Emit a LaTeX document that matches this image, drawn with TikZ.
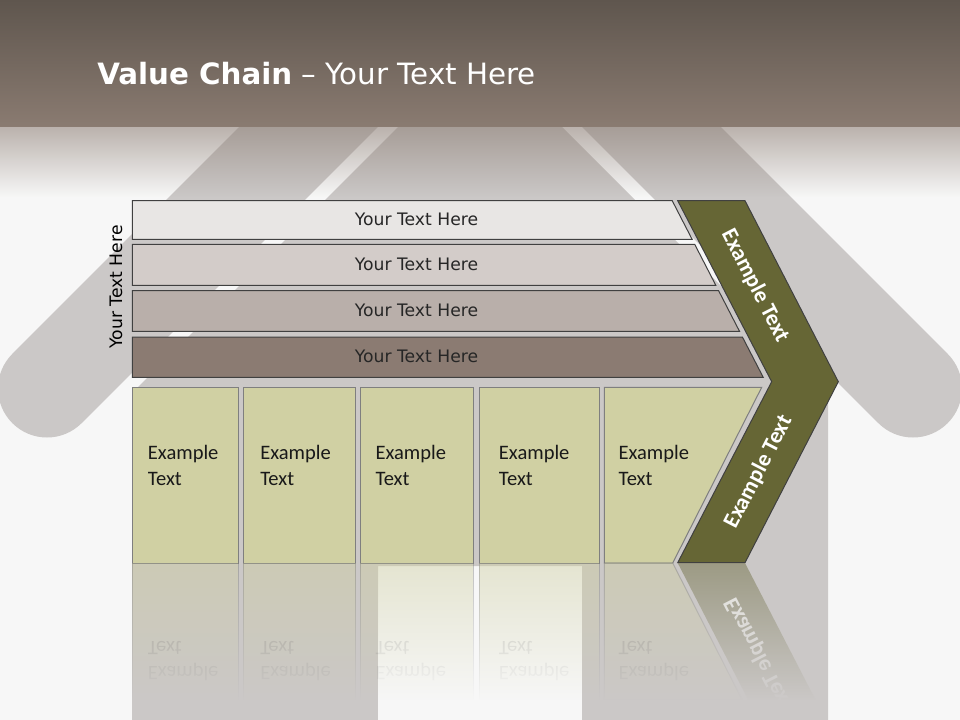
\documentclass[tikz,border=0pt]{standalone}
\usepackage{fontspec}
\setmainfont{Carlito}
\newfontfamily\dejavu{DejaVu Sans}
\usepackage{graphicx}
\usetikzlibrary{fadings}
\definecolor{bgc}{HTML}{F7F7F7}
\definecolor{housec}{HTML}{CBC8C7}
\definecolor{bandtop}{HTML}{5F564E}
\definecolor{bandbot}{HTML}{8A7B71}
\definecolor{barA}{HTML}{E8E6E4}
\definecolor{barB}{HTML}{D3CCC9}
\definecolor{barC}{HTML}{B9AFAA}
\definecolor{barD}{HTML}{8B7B72}
\definecolor{boxc}{HTML}{D0D0A3}
\definecolor{olivec}{HTML}{666635}
\definecolor{edgec}{HTML}{404040}
\definecolor{boxedge}{HTML}{7F7F7F}
\definecolor{txtc}{HTML}{262626}
\tikzfading[name=bandfade, top color=transparent!45, bottom color=transparent!100]
\tikzfading[name=reflcover, top color=transparent!100, bottom color=transparent!0]
\begin{document}
\begin{tikzpicture}[x=0.75pt,y=-0.75pt,
  barbox/.style={draw=edgec, line width=0.75pt},
  gbox/.style={fill=boxc, draw=boxedge, line width=0.75pt},
  bartext/.style={font=\dejavu\fontsize{12.9}{15}\selectfont, text=txtc, anchor=base, inner sep=0},
  boxtext/.style={font=\fontsize{15.4}{18}\selectfont, text=black!90, anchor=base west, inner sep=0},
  refltext/.style={boxtext, text opacity=0.22},
  chevtext/.style={font=\bfseries\fontsize{17}{20}\selectfont, text=white, inner sep=0},
]
\useasboundingbox (0,0) rectangle (960,720);
\clip (0,0) rectangle (960,720);
\fill[bgc] (0,0) rectangle (960,720);
% house: roof bars
\draw[housec, line width=73.5pt, line cap=round, line join=round]
  (47,388.5) -- (480,-44.5) -- (913,388.5);
% house: gable and body with door
\fill[housec] (480,45) -- (132,393) -- (132,720) -- (378,720) -- (378,566)
  -- (582,566) -- (582,720) -- (828,720) -- (828,393) -- cycle;
% top band
\shade[top color=bandtop, bottom color=bandbot] (0,0) rectangle (960,127);
\fill[bandbot, path fading=bandfade] (0,127) rectangle (960,197);
% title
\node[anchor=base west, inner sep=0, text=white, font=\dejavu\fontsize{22}{26}\selectfont]
  (title) at (97,84.5) {{\bfseries Value Chain} – Your Text Here};
% bars
\filldraw[barbox, fill=barA] (132.3,200.7) -- (672.2,200.7) -- (692.1,239.3) -- (132.3,239.3) -- cycle;
\filldraw[barbox, fill=barB] (132.3,244.3) -- (694.7,244.3) -- (715.8,285.3) -- (132.3,285.3) -- cycle;
\filldraw[barbox, fill=barC] (132.3,290.7) -- (718.6,290.7) -- (739.5,331.3) -- (132.3,331.3) -- cycle;
\filldraw[barbox, fill=barD] (132.3,337.0) -- (742.4,337.0) -- (763.2,377.3) -- (132.3,377.3) -- cycle;
\node[bartext] (t1) at (416.5,225.5) {Your Text Here};
\node[bartext] (t2) at (416.5,271) {Your Text Here};
\node[bartext] (t3) at (416.5,316.5) {Your Text Here};
\node[bartext] (t4) at (416.5,362.5) {Your Text Here};
\node[bartext, rotate=90, text=black] (vt) at (122,287) {Your Text Here};
% chevron
\filldraw[fill=olivec, draw=black!75, line width=0.75pt]
  (677.7,200.7) -- (745,200.7) -- (838.3,381.7) -- (745,562.7) -- (677.7,562.7) -- (771.7,381.7) -- cycle;
\node[chevtext, rotate=-62.8] (ch1) at (755,286) {Example Text};
\node[chevtext, rotate=62.8] (ch2) at (758.5,472) {Example Text};
% boxes
\filldraw[gbox] (132.3,387.3) rectangle (238.3,563);
\filldraw[gbox] (243.3,387.3) rectangle (355.7,563);
\filldraw[gbox] (360.3,387.3) rectangle (473.3,563);
\filldraw[gbox] (479.3,387.3) rectangle (599.3,563);
\filldraw[gbox] (604.3,387.3) -- (761.7,387.3) -- (672.7,563) -- (604.3,563) -- cycle;
\node[boxtext] (e1) at (147.7,459.3) {Example};
\node[boxtext] (x1) at (147.7,485) {Text};
\node[boxtext] (e2) at (260,459.3) {Example};
\node[boxtext] (x2) at (260,485) {Text};
\node[boxtext] (e3) at (375.3,459.3) {Example};
\node[boxtext] (x3) at (375.3,485) {Text};
\node[boxtext] (e4) at (498.7,459.3) {Example};
\node[boxtext] (x4) at (498.7,485) {Text};
\node[boxtext] (e5) at (618.3,459.3) {Example};
\node[boxtext] (x5) at (618.3,485) {Text};
% reflection
\begin{scope}[opacity=0.45]
\filldraw[gbox] (132.3,563) rectangle (238.3,700);
\filldraw[gbox] (243.3,563) rectangle (355.7,700);
\filldraw[gbox] (360.3,563) rectangle (473.3,700);
\filldraw[gbox] (479.3,563) rectangle (599.3,700);
\filldraw[gbox] (604.3,563) -- (672.7,563) -- (742.1,700) -- (604.3,700) -- cycle;
\fill[olivec] (677.7,563) -- (745,563) -- (815.6,700) -- (748.3,700) -- cycle;
\end{scope}
\node[refltext] (re1) at (147.7,666.7) {\scalebox{1}[-1]{Example}};
\node[refltext] (rx1) at (147.7,641) {\scalebox{1}[-1]{Text}};
\node[refltext] (re2) at (260,666.7) {\scalebox{1}[-1]{Example}};
\node[refltext] (rx2) at (260,641) {\scalebox{1}[-1]{Text}};
\node[refltext] (re3) at (375.3,666.7) {\scalebox{1}[-1]{Example}};
\node[refltext] (rx3) at (375.3,641) {\scalebox{1}[-1]{Text}};
\node[refltext] (re4) at (498.7,666.7) {\scalebox{1}[-1]{Example}};
\node[refltext] (rx4) at (498.7,641) {\scalebox{1}[-1]{Text}};
\node[refltext] (re5) at (618.3,666.7) {\scalebox{1}[-1]{Example}};
\node[refltext] (rx5) at (618.3,641) {\scalebox{1}[-1]{Text}};
\node[chevtext, rotate=-62.8, text opacity=0.8] (rch) at (758.5,654) {\scalebox{1}[-1]{Example Text}};
% fade-out of the reflection
\fill[housec, path fading=reflcover] (132,564) rectangle (378,700.5);
\fill[bgc, path fading=reflcover] (378,564) rectangle (582,700.5);
\fill[housec, path fading=reflcover] (582,564) rectangle (828,700.5);
\fill[housec] (132,700) rectangle (378,720);
\fill[bgc] (378,700) rectangle (582,720);
\fill[housec] (582,700) rectangle (828,720);
\end{tikzpicture}
\end{document}
